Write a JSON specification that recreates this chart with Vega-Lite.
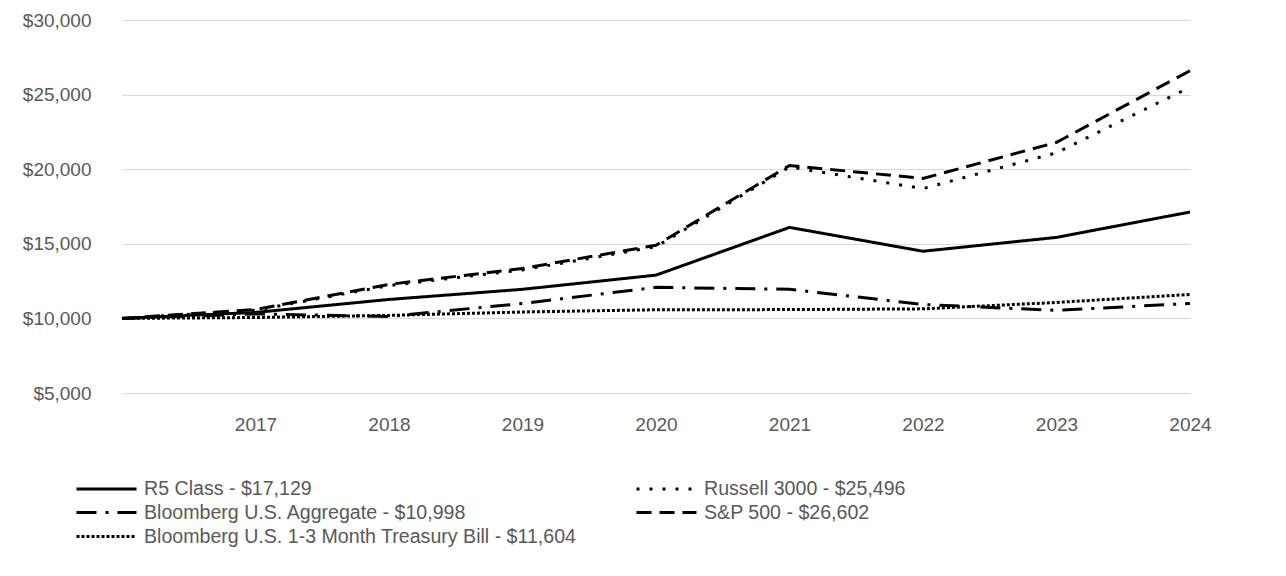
{
  "$schema": "https://vega.github.io/schema/vega-lite/v6.json",
  "width": 1068,
  "height": 373,
  "autosize": "none",
  "padding": {"left": 122, "top": 20, "right": 96, "bottom": 183},
  "background": "white",
  "config": {
    "view": {"stroke": null},
    "font": "Liberation Sans",
    "axis": {"labelFont": "Liberation Sans", "labelColor": "#595959", "labelFontSize": 19, "domain": false, "ticks": false, "gridColor": "#d9d9d9", "gridWidth": 1},
    "legend": {"labelFont": "Liberation Sans", "labelColor": "#595959", "labelFontSize": 19.6}
  },
  "data": {"values": [
    {"year": 2016, "series": "R5 Class - $17,129", "value": 10000},
    {"year": 2017, "series": "R5 Class - $17,129", "value": 10400},
    {"year": 2018, "series": "R5 Class - $17,129", "value": 11270},
    {"year": 2019, "series": "R5 Class - $17,129", "value": 11950},
    {"year": 2020, "series": "R5 Class - $17,129", "value": 12900},
    {"year": 2021, "series": "R5 Class - $17,129", "value": 16100},
    {"year": 2022, "series": "R5 Class - $17,129", "value": 14500},
    {"year": 2023, "series": "R5 Class - $17,129", "value": 15430},
    {"year": 2024, "series": "R5 Class - $17,129", "value": 17129},
    {"year": 2016, "series": "Russell 3000 - $25,496", "value": 10000},
    {"year": 2017, "series": "Russell 3000 - $25,496", "value": 10550},
    {"year": 2018, "series": "Russell 3000 - $25,496", "value": 12200},
    {"year": 2019, "series": "Russell 3000 - $25,496", "value": 13250},
    {"year": 2020, "series": "Russell 3000 - $25,496", "value": 14800},
    {"year": 2021, "series": "Russell 3000 - $25,496", "value": 20150},
    {"year": 2022, "series": "Russell 3000 - $25,496", "value": 18700},
    {"year": 2023, "series": "Russell 3000 - $25,496", "value": 21100},
    {"year": 2024, "series": "Russell 3000 - $25,496", "value": 25496},
    {"year": 2016, "series": "Bloomberg U.S. Aggregate - $10,998", "value": 10000},
    {"year": 2017, "series": "Bloomberg U.S. Aggregate - $10,998", "value": 10300},
    {"year": 2018, "series": "Bloomberg U.S. Aggregate - $10,998", "value": 10130},
    {"year": 2019, "series": "Bloomberg U.S. Aggregate - $10,998", "value": 11000},
    {"year": 2020, "series": "Bloomberg U.S. Aggregate - $10,998", "value": 12080},
    {"year": 2021, "series": "Bloomberg U.S. Aggregate - $10,998", "value": 11950},
    {"year": 2022, "series": "Bloomberg U.S. Aggregate - $10,998", "value": 10930},
    {"year": 2023, "series": "Bloomberg U.S. Aggregate - $10,998", "value": 10540},
    {"year": 2024, "series": "Bloomberg U.S. Aggregate - $10,998", "value": 10998},
    {"year": 2016, "series": "S&P 500 - $26,602", "value": 10000},
    {"year": 2017, "series": "S&P 500 - $26,602", "value": 10600},
    {"year": 2018, "series": "S&P 500 - $26,602", "value": 12280},
    {"year": 2019, "series": "S&P 500 - $26,602", "value": 13350},
    {"year": 2020, "series": "S&P 500 - $26,602", "value": 14900},
    {"year": 2021, "series": "S&P 500 - $26,602", "value": 20250},
    {"year": 2022, "series": "S&P 500 - $26,602", "value": 19380},
    {"year": 2023, "series": "S&P 500 - $26,602", "value": 21800},
    {"year": 2024, "series": "S&P 500 - $26,602", "value": 26602},
    {"year": 2016, "series": "Bloomberg U.S. 1-3 Month Treasury Bill - $11,604", "value": 10000},
    {"year": 2017, "series": "Bloomberg U.S. 1-3 Month Treasury Bill - $11,604", "value": 10060},
    {"year": 2018, "series": "Bloomberg U.S. 1-3 Month Treasury Bill - $11,604", "value": 10200},
    {"year": 2019, "series": "Bloomberg U.S. 1-3 Month Treasury Bill - $11,604", "value": 10430},
    {"year": 2020, "series": "Bloomberg U.S. 1-3 Month Treasury Bill - $11,604", "value": 10580},
    {"year": 2021, "series": "Bloomberg U.S. 1-3 Month Treasury Bill - $11,604", "value": 10590},
    {"year": 2022, "series": "Bloomberg U.S. 1-3 Month Treasury Bill - $11,604", "value": 10640},
    {"year": 2023, "series": "Bloomberg U.S. 1-3 Month Treasury Bill - $11,604", "value": 11070},
    {"year": 2024, "series": "Bloomberg U.S. 1-3 Month Treasury Bill - $11,604", "value": 11604}
  ]},
  "mark": {"type": "line", "color": "black", "strokeWidth": 3, "strokeCap": "butt"},
  "encoding": {
    "x": {"field": "year", "type": "quantitative", "scale": {"domain": [2016, 2024], "nice": false, "zero": false},
      "axis": {"title": null, "values": [2017, 2018, 2019, 2020, 2021, 2022, 2023, 2024], "format": "d", "grid": false, "labelPadding": 22, "labelFlush": false}},
    "y": {"field": "value", "type": "quantitative", "scale": {"domain": [5000, 30000], "nice": false, "zero": false},
      "axis": {"title": null, "values": [5000, 10000, 15000, 20000, 25000, 30000], "format": "$,d", "labelPadding": 31}},
    "strokeDash": {"field": "series", "type": "nominal",
      "scale": {
        "domain": ["R5 Class - $17,129", "Bloomberg U.S. Aggregate - $10,998", "Bloomberg U.S. 1-3 Month Treasury Bill - $11,604", "Russell 3000 - $25,496", "S&P 500 - $26,602"],
        "range": [[1, 0], [20, 9, 3, 9], [3, 2], [3, 10], [15, 8]]
      },
      "legend": {"title": null, "orient": "none", "legendX": -47, "legendY": 455, "columns": 2, "columnPadding": 53, "rowPadding": 0, "symbolType": "M-1,0H4", "symbolSize": 576, "symbolStrokeWidth": 3, "symbolStrokeColor": "black", "symbolFillColor": "transparent", "labelOffset": 42, "labelLimit": 600}
    }
  }
}
